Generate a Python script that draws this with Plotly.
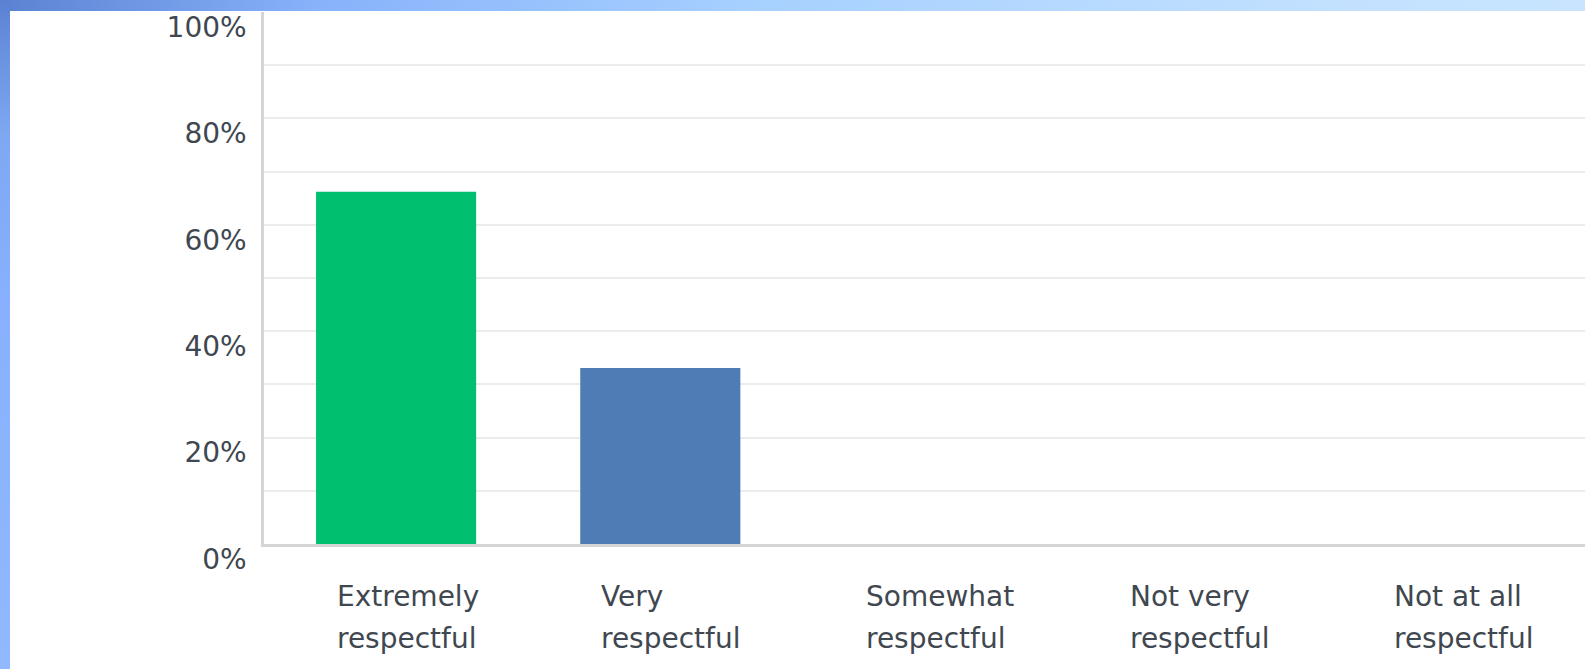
import base64
import plotly.graph_objects as go

categories = ["Extremely respectful", "Very respectful", "Somewhat respectful",
              "Not very respectful", "Not at all respectful"]
values = [66.2, 33.1, 0, 0, 0]
bar_colors = ["#00bf6f", "#507cb6", "#d25f90", "#f9be00", "#6bc8cd"]
y_tickvals = [0, 20, 40, 60, 80, 100]
y_ticktext = ["0%", "20%", "40%", "60%", "80%", "100%"]

W, H = 1585, 669
L, R, T, B = 264, 0, 12, 125
PW, PH = W - L - R, H - T - B

FONT = "DejaVu Sans"
TXT = "#3f4750"

fig = go.Figure(go.Bar(
    x=categories, y=values,
    marker=dict(color=bar_colors, line=dict(width=0)),
    hoverinfo="skip",
))


def grad_svg(w, h, stops, horizontal):
    x2, y2 = ("1", "0") if horizontal else ("0", "1")
    st = "".join(f'<stop offset="{o}" stop-color="{c}"/>' for o, c in stops)
    svg = (f'<svg xmlns="http://www.w3.org/2000/svg" width="{w}" height="{h}" '
           f'preserveAspectRatio="none" viewBox="0 0 {w} {h}">'
           f'<defs><linearGradient id="g" x1="0" y1="0" x2="{x2}" y2="{y2}">{st}</linearGradient></defs>'
           f'<rect x="0" y="0" width="{w}" height="{h}" fill="url(#g)"/></svg>')
    return "data:image/svg+xml;base64," + base64.b64encode(svg.encode()).decode()


def px_to_paper_x(px):
    return (px - L) / PW


def px_to_paper_y(py):
    return (H - B - py) / PH


top_src = grad_svg(W, 11, [(0, "#5b82d2"), (0.2, "#88b2fa"), (0.47, "#a6d0ff"),
                            (0.85, "#c3e1ff"), (1, "#c8e4ff")], True)
left_src = grad_svg(10, H, [(0, "#5b82d2"), (0.2, "#7ea8f2"), (0.45, "#88b0fe"),
                             (1, "#90b9ff")], False)

images = [
    dict(source=top_src, xref="paper", yref="paper", x=px_to_paper_x(0), y=px_to_paper_y(0),
         sizex=W / PW, sizey=11 / PH, xanchor="left", yanchor="top", sizing="stretch",
         layer="above"),
    dict(source=left_src, xref="paper", yref="paper", x=px_to_paper_x(0), y=px_to_paper_y(0),
         sizex=10 / PW, sizey=H / PH, xanchor="left", yanchor="top", sizing="stretch",
         layer="above"),
]

annotations = []
for cat in categories:
    lines = cat.rsplit(" ", 1)
    for k, line in enumerate(lines):
        annotations.append(dict(
            x=cat, y=0, xref="x", yref="y", text=line, showarrow=False,
            xanchor="left", yanchor="middle", align="left",
            xshift=-61, yshift=-52 - 42.5 * k,
            font=dict(family=FONT, size=28, color=TXT),
        ))

fig.update_layout(
    width=W, height=H,
    margin=dict(l=L, r=R, t=T, b=B, pad=0),
    paper_bgcolor="white", plot_bgcolor="white",
    bargap=0.394,
    showlegend=False,
    images=images,
    annotations=annotations,
    xaxis=dict(
        type="category", range=[-0.5, 4.5], showticklabels=False,
        showline=True, linecolor="#d5d5d5", linewidth=2.5,
        showgrid=False, zeroline=False, ticks="", fixedrange=True,
    ),
    yaxis=dict(
        range=[0, 100], tickvals=y_tickvals, ticktext=y_ticktext,
        showline=True, linecolor="#d5d5d5", linewidth=2.5,
        showgrid=True, gridcolor="#ececec", gridwidth=2,
        minor=dict(dtick=10, tick0=0, showgrid=True, gridcolor="#ececec", gridwidth=2),
        zeroline=False, ticks="",
        tickfont=dict(family=FONT, size=28, color=TXT),
        ticklabelshift=15, ticklabelstandoff=9,
        fixedrange=True,
    ),
)

fig.write_html(
    "out.html",
    config={"displayModeBar": False},
    post_script="document.body.style.margin='0';document.body.style.overflow='hidden';",
)
